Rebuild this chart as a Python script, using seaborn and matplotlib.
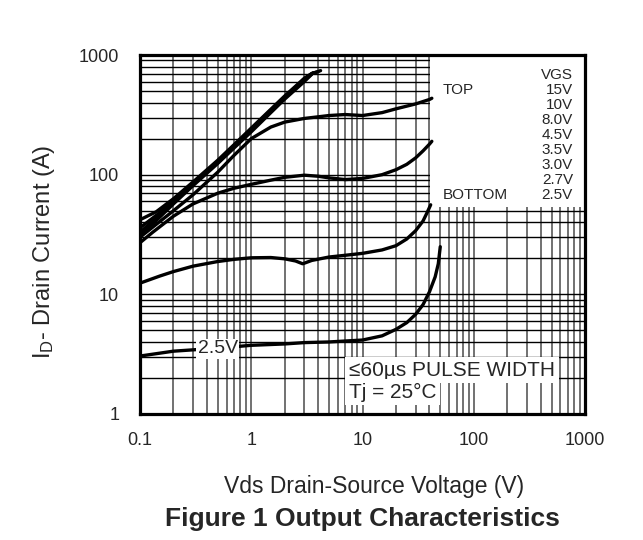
import numpy as np
import pandas as pd
import matplotlib
matplotlib.use('Agg')
import matplotlib.pyplot as plt
import seaborn as sns
from matplotlib.patches import Rectangle
from matplotlib.ticker import FixedLocator, NullFormatter, LogLocator

# Curve data (Vds in V, Id in A)
vds_25 = [0.1, 0.2, 0.5, 1, 2, 3, 5, 10, 15, 20, 25, 30, 35, 40, 45, 48, 50]
id_25 = [3.05, 3.35, 3.55, 3.75, 3.85, 3.95, 4.0, 4.15, 4.5, 5.1, 5.8, 6.8, 8.2, 10.5, 14, 18, 25]

vds_27 = [0.1, 0.15, 0.2, 0.3, 0.5, 0.7, 1, 1.5, 2, 2.5, 2.9, 3.5, 5, 7, 10, 15, 20, 25, 30, 35, 38, 41]
id_27 = [12.4, 14.2, 15.5, 17.2, 18.8, 19.6, 20.2, 20.3, 19.8, 19.0, 18.0, 19.2, 20.5, 21.2, 22, 23.5, 25.5, 29, 34, 41, 48, 56]

vds_30 = [0.1, 0.13, 0.2, 0.3, 0.5, 0.7, 1, 1.5, 2, 3, 4, 5, 7, 10, 15, 20, 25, 30, 35, 40, 42]
id_30 = [27, 33, 45, 57, 70, 77, 83, 90, 95, 99, 97, 94, 91, 93, 100, 110, 122, 138, 158, 180, 190]

vds_35 = [0.1, 0.2, 0.3, 0.5, 0.7, 1, 1.5, 2, 3, 5, 7, 10, 15, 20, 30, 40, 42]
id_35 = [30, 50, 68, 105, 145, 200, 250, 275, 295, 312, 318, 312, 330, 355, 390, 425, 435]

vds_45 = [0.1, 0.15, 0.2, 0.3, 0.5, 0.7, 1.0, 1.5, 2.0, 2.5, 3.0, 3.5]
id_45 = [31, 44, 57, 81, 124, 167, 228, 330, 428, 515, 600, 690]

vds_80 = [0.1, 0.15, 0.2, 0.3, 0.5, 0.7, 1.0, 1.5, 2.0, 2.5, 3.0, 3.6]
id_80 = [33, 46, 59, 83, 127, 171, 235, 340, 440, 530, 620, 710]

vds_10 = [0.1, 0.15, 0.2, 0.3, 0.5, 0.7, 1.0, 1.5, 2.0, 2.5, 3.0, 3.5, 4.0]
id_10 = [36, 48, 61, 85, 130, 175, 240, 346, 448, 540, 630, 700, 725]

vds_15 = [0.1, 0.14, 0.2, 0.3, 0.5, 0.7, 1.0, 1.5, 2.0, 2.5, 3.0, 3.5, 4.2]
id_15 = [42, 49, 63, 87, 132, 178, 245, 352, 455, 548, 640, 700, 740]

curves = [(vds_25, id_25), (vds_27, id_27), (vds_30, id_30), (vds_35, id_35),
          (vds_45, id_45), (vds_80, id_80), (vds_10, id_10), (vds_15, id_15)]

x_ticks = [0.1, 1, 10, 100, 1000]
x_tick_labels = ['0.1', '1', '10', '100', '1000']
y_ticks = [1, 10, 100, 1000]
y_tick_labels = ['1', '10', '100', '1000']

vgs_labels = ['15V', '10V', '8.0V', '4.5V', '3.5V', '3.0V', '2.7V', '2.5V']

sns.set_style('white')
plt.rcParams['font.family'] = ['Liberation Sans', 'DejaVu Sans']
plt.rcParams['mathtext.default'] = 'regular'

fig = plt.figure(figsize=(6.43, 5.4), dpi=100)
ax = fig.add_axes([140 / 643, 1 - 414 / 540, 445 / 643, 359 / 540])

for vds, idd in curves:
    sns.lineplot(x=vds, y=idd, color='black', linewidth=2.4, sort=False,
                 estimator=None, ax=ax, zorder=3, solid_capstyle='round',
                 solid_joinstyle='round')

ax.set_xscale('log')
ax.set_yscale('log')
ax.set_xlim(0.1, 1000)
ax.set_ylim(1, 1000)

ax.xaxis.set_major_locator(FixedLocator(x_ticks))
ax.yaxis.set_major_locator(FixedLocator(y_ticks))
ax.set_xticklabels(x_tick_labels)
ax.set_yticklabels(y_tick_labels)
ax.xaxis.set_minor_locator(LogLocator(base=10, subs=np.arange(2, 10)))
ax.yaxis.set_minor_locator(LogLocator(base=10, subs=np.arange(2, 10)))
ax.xaxis.set_minor_formatter(NullFormatter())
ax.yaxis.set_minor_formatter(NullFormatter())
ax.tick_params(which='both', length=0)
ax.tick_params(axis='x', labelsize=13, pad=13)
ax.tick_params(axis='y', labelsize=13, pad=15)

ax.grid(True, which='both', axis='x', color='#4a4a4a', linewidth=1.1)
ax.grid(True, which='both', axis='y', color='black', linewidth=1.0)
ax.set_axisbelow(True)

for sp in ax.spines.values():
    sp.set_color('black')
    sp.set_linewidth(2.3)
    sp.set_zorder(5)

ax.set_xlabel('')
ax.set_ylabel('')

# white legend box in the upper right
x0 = (430 - 140) / 445
y0 = (414 - 207) / 359
ax.add_patch(Rectangle((x0, y0), 1 - x0, 1 - y0, transform=ax.transAxes,
                       facecolor='white', edgecolor='none', zorder=2))

lx_right = (573 - 140) / 445
lx_left = (443 - 140) / 445
step = 15 / 359
ytop = (414 - 75) / 359
ax.text(lx_right, ytop, 'VGS', transform=ax.transAxes, ha='right', va='center', fontsize=11, zorder=4)
for i, lab in enumerate(vgs_labels):
    yy = ytop - (i + 1) * step
    ax.text(lx_right, yy, lab, transform=ax.transAxes, ha='right', va='center', fontsize=11, zorder=4)
ax.text(lx_left, ytop - step, 'TOP', transform=ax.transAxes, ha='left', va='center', fontsize=11, zorder=4)
ax.text(lx_left, ytop - 8 * step, 'BOTTOM', transform=ax.transAxes, ha='left', va='center', fontsize=11, zorder=4)

# curve label and test conditions
box = dict(facecolor='white', edgecolor='none', pad=1.0)
box2 = dict(facecolor='white', edgecolor='none', pad=2.5)
ax.text(0.5, 3.5, '2.5V', ha='center', va='center', fontsize=14, bbox=box, zorder=4)
ax.text((349 - 140) / 445, (414 - 370) / 359, '\u226460\u00b5s PULSE WIDTH', transform=ax.transAxes,
        ha='left', va='center', fontsize=15, bbox=box2, zorder=4)
ax.text((349 - 140) / 445, (414 - 392) / 359, 'Tj = 25\u00b0C', transform=ax.transAxes,
        ha='left', va='center', fontsize=15, bbox=box2, zorder=4)

fig.text(44 / 643, 1 - 252 / 540, 'I$_D$- Drain Current (A)', rotation=90,
         ha='center', va='center', fontsize=17)
fig.text(374 / 643, 1 - 486 / 540, 'Vds Drain-Source Voltage (V)',
         ha='center', va='center', fontsize=16.5)
fig.text(362 / 643, 1 - 519 / 540, 'Figure 1 Output Characteristics',
         ha='center', va='center', fontsize=19, fontweight='bold')

fig.savefig('out.png', dpi=100)
